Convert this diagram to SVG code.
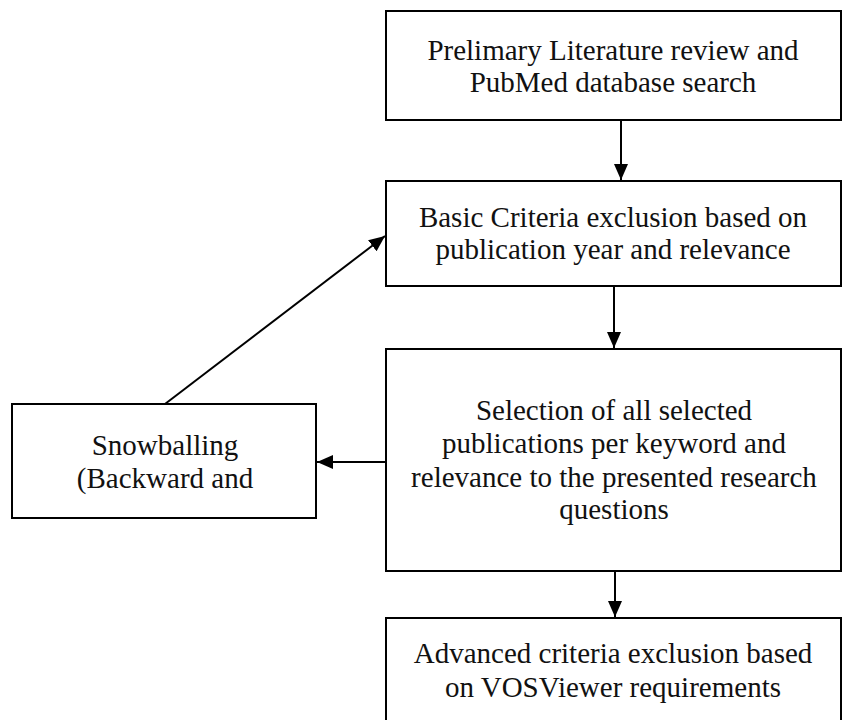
<svg xmlns="http://www.w3.org/2000/svg" width="843" height="720" viewBox="0 0 843 720">
<style>
.box{fill:#fff;stroke:#000;stroke-width:2}
.t{font-family:"Liberation Serif","Times New Roman",serif;font-size:29px;fill:#111;text-anchor:middle}
.ln{stroke:#000;stroke-width:2;fill:none}
</style>
<defs>
<marker id="ah" markerWidth="16" markerHeight="14" refX="16" refY="7" orient="auto" markerUnits="userSpaceOnUse" viewBox="0 0 16 14">
<path d="M0,0 L16,7 L0,14 z" fill="#000"/>
</marker>
</defs>
<rect width="843" height="720" fill="#fff"/>
<g id="n1">
<rect class="box" x="386" y="11" width="455" height="109"/>
<text class="t" x="613" y="60">Prelimary Literature review and</text>
<text class="t" x="613" y="92">PubMed database search</text>
</g>
<g id="n2">
<rect class="box" x="386" y="181" width="455" height="105"/>
<text class="t" x="613" y="227">Basic Criteria exclusion based on</text>
<text class="t" x="613" y="259">publication year and relevance</text>
</g>
<g id="n3">
<rect class="box" x="386" y="349" width="455" height="222"/>
<text class="t" x="614" y="420">Selection of all selected</text>
<text class="t" x="614" y="453">publications per keyword and</text>
<text class="t" x="614" y="487">relevance to the presented research</text>
<text class="t" x="614" y="519">questions</text>
</g>
<g id="n4">
<rect class="box" x="12" y="404" width="304" height="114"/>
<text class="t" x="165" y="455">Snowballing</text>
<text class="t" x="165" y="488">(Backward and</text>
</g>
<g id="n5">
<rect class="box" x="386" y="618" width="455" height="120"/>
<text class="t" x="613" y="663">Advanced criteria exclusion based</text>
<text class="t" x="613" y="697">on VOSViewer requirements</text>
</g>
<g id="connectors">
<line class="ln" x1="621" y1="120" x2="621" y2="180" marker-end="url(#ah)"/>
<line class="ln" x1="614" y1="286" x2="614" y2="348" marker-end="url(#ah)"/>
<line class="ln" x1="615" y1="571" x2="615" y2="617" marker-end="url(#ah)"/>
<line class="ln" x1="386" y1="462" x2="317" y2="462" marker-end="url(#ah)"/>
<line class="ln" x1="165" y1="404" x2="385" y2="236" marker-end="url(#ah)"/>
</g>
</svg>
